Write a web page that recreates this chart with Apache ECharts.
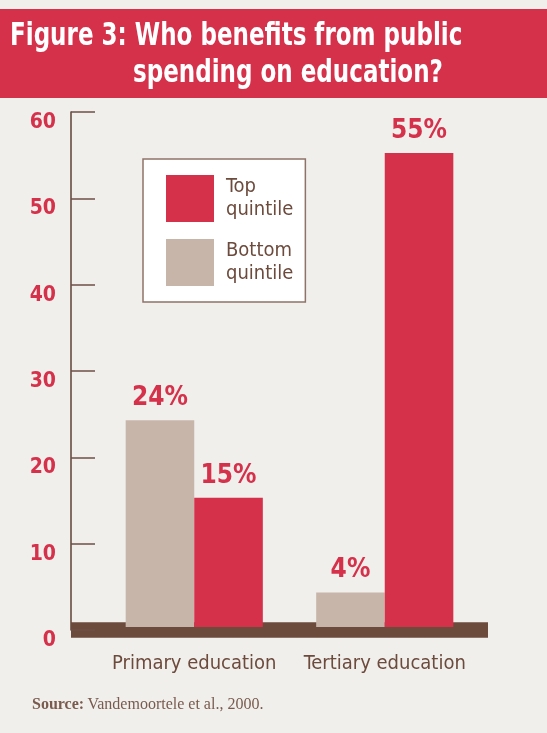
<!DOCTYPE html>
<html>
<head>
<meta charset="utf-8">
<script src="https://cdn.jsdelivr.net/npm/echarts@6/dist/echarts.min.js"></script>
<style>
  html, body { margin: 0; padding: 0; background: #f1efec; }
  #chart { width: 547px; height: 733px; }
</style>
</head>
<body>
<div id="chart"></div>
<script>
// Share of public education spending received, by quintile (%)
const categories = ['Primary education', 'Tertiary education'];
const bottomQuintile = [24, 4];
const topQuintile = [15, 55];
const yTicks = [0, 10, 20, 30, 40, 50, 60];

const RED = '#d5314a';
const BEIGE = '#c8b5aa';
const BROWN = '#6c4a3c';
const NARROW = '"DejaVu Sans Condensed", "Liberation Sans Narrow", sans-serif';

const chart = echarts.init(document.getElementById('chart'));

const valueLabel = {
  show: true,
  position: 'top',
  distance: 9,
  formatter: p => p.value + '%',
  color: RED,
  fontFamily: NARROW,
  fontWeight: 'bold',
  fontSize: 26
};

chart.setOption({
  backgroundColor: '#f1efec',
  animation: false,
  graphic: [
    { type: 'rect', shape: { x: 0, y: 9, width: 547, height: 89 }, style: { fill: RED }, z: 0 },
    { type: 'text', x: 10, y: 37, scaleX: 0.8,
      style: { text: 'Figure 3: Who benefits from public', fill: '#fff', font: 'bold 32px ' + NARROW, verticalAlign: 'middle' } },
    { type: 'text', x: 133, y: 74, scaleX: 0.8,
      style: { text: 'spending on education?', fill: '#fff', font: 'bold 32px ' + NARROW, verticalAlign: 'middle' } },
    { type: 'text', x: 32, y: 705,
      style: { rich: { b: { fontWeight: 'bold', fontFamily: '"Liberation Serif", serif', fontSize: 16, fill: '#7a5a4e' },
                       n: { fontFamily: '"Liberation Serif", serif', fontSize: 16, fill: '#7a5a4e' } },
               text: '{b|Source:} {n|Vandemoortele et al., 2000.}', verticalAlign: 'middle' } }
  ],
  grid: [
    { left: 71, right: 59, top: 112, bottom: 103 },
    { left: 99, right: 67, top: 110, bottom: 106 }
  ],
  legend: {
    data: ['Top quintile', 'Bottom quintile'],
    orient: 'vertical',
    left: 143, top: 159,
    itemWidth: 48, itemHeight: 47, itemGap: 17,
    icon: 'rect',
    backgroundColor: '#ffffff',
    borderColor: '#8e7368',
    borderWidth: 1.5,
    borderRadius: 0,
    padding: [16, 12, 16, 23],
    formatter: name => name.replace(' ', '\n'),
    textStyle: { color: BROWN, fontFamily: NARROW, fontSize: 20, lineHeight: 23, padding: [0, 0, 0, 7] }
  },
  xAxis: [
    { gridIndex: 0, type: 'category', data: categories,
      axisLine: { show: true, lineStyle: { color: BROWN, width: 15.5, cap: 'butt' } },
      axisTick: { show: false }, axisLabel: { show: false } },
    { gridIndex: 1, type: 'category', data: categories,
      axisLine: { show: false }, axisTick: { show: false },
      axisLabel: { interval: 0, color: BROWN, fontFamily: NARROW, fontSize: 20, margin: 27 } }
  ],
  yAxis: [
    { gridIndex: 0, type: 'value', min: yTicks[0], max: yTicks[yTicks.length - 1], interval: 10,
      axisLine: { show: true, lineStyle: { color: '#5e4035', width: 1.5 } },
      axisTick: { show: true, inside: true, length: 24, lineStyle: { color: '#6f5045', width: 1.5 } },
      splitLine: { show: false },
      axisLabel: { color: RED, fontFamily: NARROW, fontWeight: 'bold', fontSize: 21, margin: 15,
                   verticalAlign: 'top' } },
    { gridIndex: 1, type: 'value', min: yTicks[0], max: yTicks[yTicks.length - 1], interval: 10, show: false }
  ],
  series: [
    { name: 'Bottom quintile', type: 'bar', xAxisIndex: 1, yAxisIndex: 1,
      data: bottomQuintile, barGap: '0%', barCategoryGap: '28%',
      itemStyle: { color: BEIGE }, label: valueLabel, z: 3 },
    { name: 'Top quintile', type: 'bar', xAxisIndex: 1, yAxisIndex: 1,
      data: topQuintile, barGap: '0%', barCategoryGap: '28%',
      itemStyle: { color: RED }, label: valueLabel, z: 3 }
  ]
});
</script>
</body>
</html>
